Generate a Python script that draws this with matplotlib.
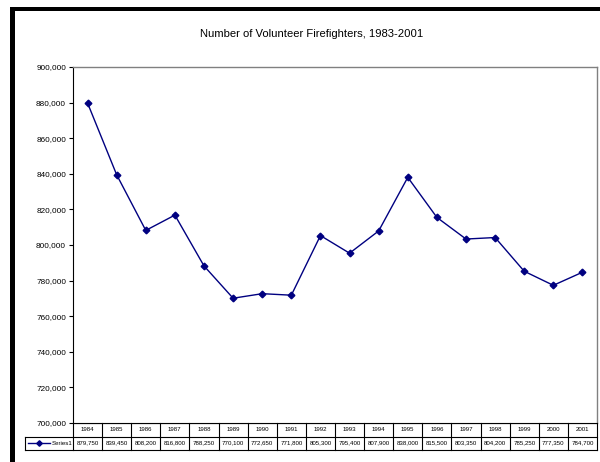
import matplotlib
matplotlib.use("Agg")
import matplotlib.pyplot as plt
from matplotlib.patches import Rectangle
from matplotlib.lines import Line2D

plt.rcParams['font.family'] = ['Liberation Sans', 'DejaVu Sans']

years = ['1984', '1985', '1986', '1987', '1988', '1989', '1990', '1991', '1992',
         '1993', '1994', '1995', '1996', '1997', '1998', '1999', '2000', '2001']
firefighters = [879750, 839450, 808200, 816800, 788250, 770100, 772650, 771800, 805300,
                795400, 807900, 838000, 815500, 803350, 804200, 785250, 777350, 784700]
series_name = 'Series1'
yticks = list(range(700000, 900001, 20000))

W, H = 600, 462
fig = plt.figure(figsize=(W / 100, H / 100), dpi=100)
fig.patch.set_facecolor('white')

def fbox(x0, y0, x1, y1):
    # pixel box (top-left origin) -> figure fraction [l, b, w, h]
    return [x0 / W, 1 - y1 / H, (x1 - x0) / W, (y1 - y0) / H]

# thick black frame at top and left (chart border, cut off on the other sides)
fig.add_artist(Rectangle((10 / W, 0), 5 / W, 1 - 7 / H, transform=fig.transFigure,
                         color='black', lw=0))
fig.add_artist(Rectangle((10 / W, 1 - 11 / H), 1, 4 / H, transform=fig.transFigure,
                         color='black', lw=0))

fig.text(312 / W, 1 - 34 / H, 'Number of Volunteer Firefighters, 1983-2001',
         ha='center', va='center', fontsize=8.1, color='black')

px0, py0, px1, py1 = 73, 67, 597, 423
ax = fig.add_axes(fbox(px0, py0, px1, py1))
n = len(years)
xs = [i + 0.5 for i in range(n)]
ax.plot(xs, firefighters, color='#000080', lw=1, marker='D', markersize=3.4,
        markerfacecolor='#000080', markeredgecolor='#000080')
ax.set_xlim(0, n)
ax.set_ylim(700000, 900000)
ax.set_yticks(yticks)
ax.set_yticklabels(['{:,}'.format(v) for v in yticks], fontsize=5.9)
ax.tick_params(axis='y', length=3, width=0.8, pad=2, direction='out')
ax.set_xticks([])
for s in ['top', 'right']:
    ax.spines[s].set_color('#808080')
    ax.spines[s].set_linewidth(1)
ax.spines['left'].set_color('black')
ax.spines['bottom'].set_color('black')
ax.spines['left'].set_linewidth(0.8)
ax.spines['bottom'].set_linewidth(0.8)

# data table under the plot
tx0 = 25
tb = fig.add_axes(fbox(px0, py1, px1, 450))
tb.set_xlim(0, n)
tb.set_ylim(0, 2)
tb.axis('off')
unit = (px1 - px0) / n
lx = -(px0 - tx0) / unit
lw_t = 0.8
tb.add_line(Line2D([0, n], [2, 2], color='black', lw=lw_t))
tb.add_line(Line2D([lx, n], [1, 1], color='black', lw=lw_t, clip_on=False))
tb.add_line(Line2D([lx, n], [0, 0], color='black', lw=lw_t, clip_on=False))
tb.add_line(Line2D([lx, lx], [0, 1], color='black', lw=lw_t, clip_on=False))
for i in range(n + 1):
    tb.add_line(Line2D([i, i], [0, 2], color='black', lw=lw_t, clip_on=False))
for i, (yr, v) in enumerate(zip(years, firefighters)):
    tb.text(i + 0.5, 1.5, yr, ha='center', va='center', fontsize=4.4)
    tb.text(i + 0.5, 0.5, '{:,}'.format(v), ha='center', va='center', fontsize=4.4)
# legend key in the row header
tb.add_line(Line2D([lx + 0.1, lx + 0.48, lx + 0.86], [0.5, 0.5, 0.5], color='#000080', lw=1,
                   marker='D', markersize=2.8, markevery=[1], clip_on=False))
tb.text(lx + 0.92, 0.5, series_name, ha='left', va='center', fontsize=4.4, clip_on=False)

fig.savefig('out.png', dpi=100)
